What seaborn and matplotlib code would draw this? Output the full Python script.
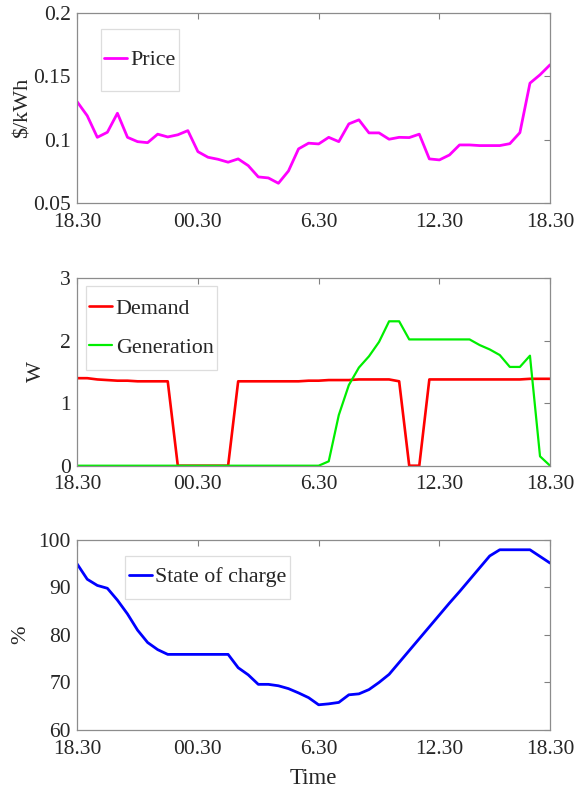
import numpy as np
import pandas as pd
import seaborn as sns
import matplotlib.pyplot as plt
from matplotlib.patches import Rectangle

# half-hourly samples from 18.30 to 18.30 next day
tick_pos = [0, 12, 24, 36, 47]
tick_labels = ["18.30", "00.30", "6.30", "12.30", "18.30"]

price = [0.130, 0.119, 0.102, 0.106, 0.121, 0.102, 0.0986, 0.0978, 0.1045, 0.1023,
         0.104, 0.1073, 0.0907, 0.0863, 0.0847, 0.0824, 0.085, 0.0797, 0.0708, 0.070,
         0.0658, 0.0755, 0.0929, 0.0974, 0.0968, 0.102, 0.0986, 0.1126, 0.1158, 0.1055,
         0.1055, 0.1005, 0.102, 0.1018, 0.1045, 0.085, 0.0842, 0.0881, 0.096, 0.096,
         0.0955, 0.0955, 0.0955, 0.097, 0.1057, 0.1447, 0.1513, 0.1592]

demand = [1.40, 1.40, 1.38, 1.37, 1.36, 1.36, 1.35, 1.35, 1.35, 1.35,
          0, 0, 0, 0, 0, 0, 1.35, 1.35, 1.35, 1.35,
          1.35, 1.35, 1.35, 1.36, 1.36, 1.37, 1.37, 1.37, 1.38, 1.38,
          1.38, 1.38, 1.35, 0, 0, 1.38, 1.38, 1.38, 1.38, 1.38,
          1.38, 1.38, 1.38, 1.38, 1.38, 1.39, 1.39, 1.39]

generation = [0] * 25 + [0.07, 0.81, 1.29, 1.57, 1.75, 1.98, 2.31, 2.31, 2.02, 2.02,
                         2.02, 2.02, 2.02, 2.02, 2.02, 1.93, 1.86, 1.77, 1.58, 1.58,
                         1.76, 0.15, 0.0]

soc = [94.9, 91.7, 90.4, 89.8, 87.3, 84.4, 81.0, 78.4, 76.9, 75.9,
       75.9, 75.9, 75.9, 75.9, 75.9, 75.9, 73.1, 71.6, 69.6, 69.6,
       69.3, 68.7, 67.8, 66.8, 65.3, 65.5, 65.8, 67.4, 67.6, 68.5,
       70.0, 71.7, 74.2, 76.7, 79.2, 81.7, 84.2, 86.7, 89.1, 91.6,
       94.1, 96.6, 97.9, 97.9, 97.9, 97.9, 96.5, 95.1]

t = np.arange(len(price))
df = pd.DataFrame({"t": t, "Price": price, "Demand": demand,
                   "Generation": generation, "State of charge": soc})

sns.set_style("white")
plt.rcParams["font.family"] = ["Liberation Serif", "DejaVu Serif"]

fig = plt.figure(figsize=(5.76, 7.88), dpi=100)
left, width = 0.134, 0.821
ax1 = fig.add_axes([left, 0.742, width, 0.2415])
ax2 = fig.add_axes([left, 0.409, width, 0.238])
ax3 = fig.add_axes([left, 0.0736, width, 0.2414])

sns.lineplot(data=df, x="t", y="Price", ax=ax1, color="#ff00ff", lw=2.0, label="Price")
sns.lineplot(data=df, x="t", y="Demand", ax=ax2, color="#ff0000", lw=1.9, label="Demand")
sns.lineplot(data=df, x="t", y="Generation", ax=ax2, color="#00ee00", lw=1.6, label="Generation")
sns.lineplot(data=df, x="t", y="State of charge", ax=ax3, color="#0000ff", lw=2.0,
             label="State of charge")

ax1.set_ylim(0.05, 0.2)
ax1.set_yticks([0.05, 0.1, 0.15, 0.2])
ax1.set_yticklabels(["0.05", "0.1", "0.15", "0.2"])
ax1.set_ylabel("\\$/kWh", fontsize=16)
ax1.yaxis.set_label_coords(-0.094, 0.5)
ax2.set_ylim(0, 3)
ax2.set_yticks([0, 1, 2, 3])
ax2.set_ylabel("W", fontsize=16)
ax2.yaxis.set_label_coords(-0.066, 0.5)
ax3.set_ylim(60, 100)
ax3.set_yticks([60, 70, 80, 90, 100])
ax3.set_ylabel("%", fontsize=16)
ax3.yaxis.set_label_coords(-0.099, 0.5)

for ax in (ax1, ax2, ax3):
    ax.set_xlim(0, 47)
    ax.set_xticks(tick_pos)
    ax.set_xticklabels(tick_labels)
    ax.set_xlabel("")
    ax.tick_params(direction="in", length=4, width=0.8, color="#808080",
                   labelsize=15.5, top=True, right=True)
    ax.tick_params(axis="x", pad=7)
    ax.tick_params(axis="y", pad=4.5)
    for s in ax.spines.values():
        s.set_color("#8c8c8c")
        s.set_linewidth(0.9)

ax3.set_xlabel("Time", fontsize=16.5)
ax3.xaxis.set_label_coords(0.5, -0.2)

# MATLAB-like legend boxes: (x0, y0, w, h) in axes fraction
boxes = {ax1: (0.050, 0.589, 0.166, 0.327),
         ax2: (0.019, 0.511, 0.276, 0.448),
         ax3: (0.101, 0.689, 0.349, 0.228)}
for ax, box in boxes.items():
    ax.add_patch(Rectangle(box[:2], box[2], box[3], transform=ax.transAxes,
                           fc="white", ec="#dddddd", lw=0.9, zorder=4))
    ax.legend(loc="center", bbox_to_anchor=box, frameon=False, fontsize=15.8,
              handlelength=1.05, handletextpad=0.15, borderaxespad=0,
              borderpad=0, labelspacing=0.85)

fig.savefig("out.png", dpi=100)
